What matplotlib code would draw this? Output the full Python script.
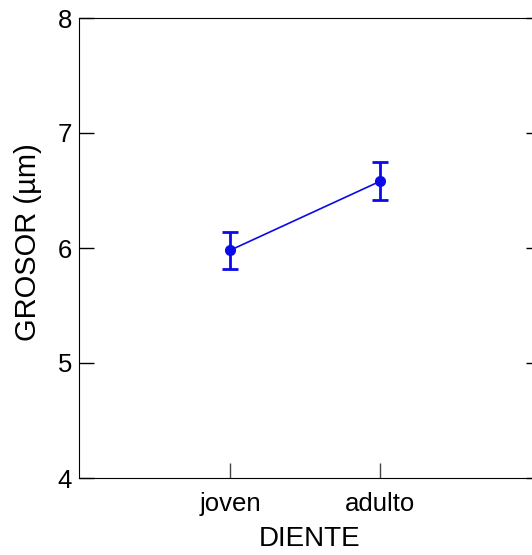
import numpy as np
import matplotlib.pyplot as plt

plt.rcParams['font.family'] = ['Liberation Sans', 'DejaVu Sans']

categorias = ["joven", "adulto"]
grosor = [5.98, 6.58]
error = [0.16, 0.165]
yticks = [4, 5, 6, 7, 8]

fig = plt.figure(figsize=(5.32, 5.55), dpi=100)
# right spine sits just past the image edge, as in the original
ax = fig.add_axes([79/532, 1 - 478/555, (541-79)/532, (478-18)/555])

x = np.arange(1, len(categorias) + 1)
ax.errorbar(x, grosor, yerr=error, color="#0a0aea", marker="o", markersize=7,
            linewidth=1.2, elinewidth=2, capsize=5.5, capthick=2)

ax.set_xlim(-0.007, 3.073)
ax.set_ylim(4, 8)
ax.set_xticks(x)
ax.set_xticklabels(categorias)
ax.set_yticks(yticks)
ax.tick_params(axis="both", direction="in", length=10.5, width=1, labelsize=18.5)
ax.tick_params(axis="y", right=True, pad=5)
ax.tick_params(axis="x", colors="#444444", labelcolor="black", pad=10)
ax.set_xlabel("DIENTE", fontsize=20, labelpad=7)
ax.set_ylabel("GROSOR (µm)", fontsize=21)
ax.yaxis.set_label_coords(-0.08, 0.513)

fig.savefig("out.png", dpi=100)
